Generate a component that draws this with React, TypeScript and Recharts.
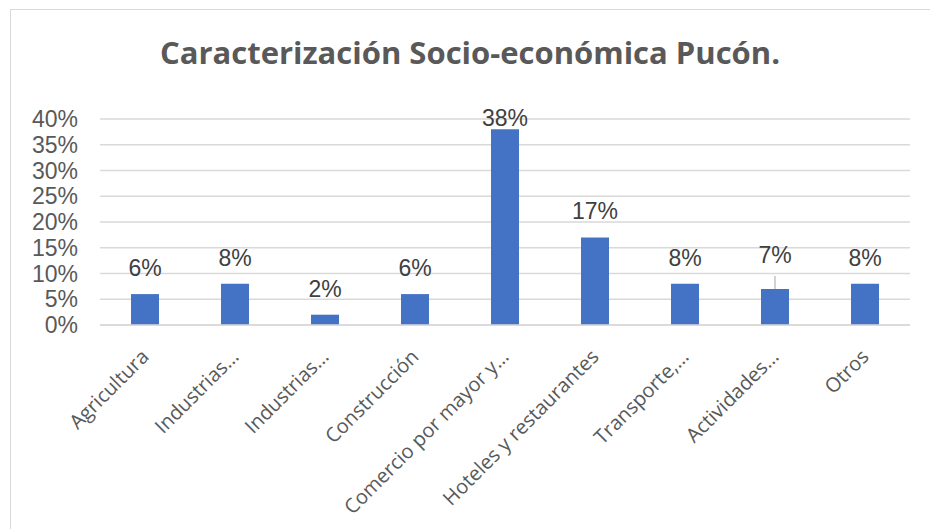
import { BarChart, Bar, XAxis, YAxis, CartesianGrid, LabelList } from 'recharts';

const categories = [
  'Agricultura',
  'Industrias…',
  'Industrias…',
  'Construcción',
  'Comercio por mayor y…',
  'Hoteles y restaurantes',
  'Transporte,…',
  'Actividades…',
  'Otros',
];
const shares = [6, 8, 2, 6, 38, 17, 8, 7, 8];
const yTicks = [0, 5, 10, 15, 20, 25, 30, 35, 40];

const data = categories.map((name, i) => ({ name, value: shares[i] }));

// label that Excel user dragged up, drawn with a leader line
const draggedLabel = 7;

const CategoryTick = (props: any) => {
  const { x, y, payload } = props;
  return (
    <text
      x={x + 5}
      y={y + 25}
      transform={`rotate(-45, ${x + 5}, ${y + 25})`}
      textAnchor="end"
      fontFamily="'Open Sans', sans-serif"
      fontSize={20}
      fill="#595959"
    >
      {payload.value}
    </text>
  );
};

const ValueLabel = (props: any) => {
  const { x, y, width, value, index } = props;
  const cx = x + width / 2;
  const lifted = index === draggedLabel;
  const cy = Math.max(118, y - (lifted ? 34 : 26));
  return (
    <g>
      {lifted && <line x1={cx} x2={cx} y1={y} y2={y - 13} stroke="#a6a6a6" strokeWidth={1} />}
      <text
        x={cx}
        y={cy}
        textAnchor="middle"
        dominantBaseline="central"
        fontFamily="'Liberation Sans', Arial, sans-serif"
        fontSize={23}
        fill="#404040"
      >
        {value}%
      </text>
    </g>
  );
};

export default function App() {
  return (
    <div style={{ position: 'absolute', left: 0, top: 0, width: 930, height: 529, background: '#fff', overflow: 'hidden' }}>
      <div
        style={{
          position: 'absolute',
          left: 10,
          top: 9,
          width: 940,
          height: 540,
          border: '1px solid #d9d9d9',
        }}
      />
      <div
        style={{
          position: 'absolute',
          left: 10,
          top: 31,
          width: 920,
          textAlign: 'center',
          fontFamily: "'Open Sans', sans-serif",
          fontWeight: 700,
          fontSize: 31,
          color: '#595959',
        }}
      >
        Caracterización Socio-económica Pucón.
      </div>
      <div style={{ position: 'absolute', left: 0, top: 0 }}>
        <BarChart
          width={930}
          height={529}
          data={data}
          margin={{ top: 119, right: 20, left: 0, bottom: 4 }}
          barCategoryGap={0}
        >
          <CartesianGrid vertical={false} stroke="#d9d9d9" strokeWidth={1.5} />
          <XAxis
            dataKey="name"
            interval={0}
            height={200}
            axisLine={{ stroke: '#d9d9d9', strokeWidth: 1.5 }}
            tickLine={false}
            tick={<CategoryTick />}
          />
          <YAxis
            width={100}
            domain={[0, 40]}
            ticks={yTicks}
            interval={0}
            axisLine={false}
            tickLine={false}
            tickSize={0}
            tickMargin={22}
            tickFormatter={(v: number) => `${v}%`}
            tick={{ fontFamily: "'Liberation Sans', Arial, sans-serif", fontSize: 23, fill: '#595959' }}
          />
          <Bar dataKey="value" fill="#4472c4" barSize={28} isAnimationActive={false}>
            <LabelList dataKey="value" content={<ValueLabel />} />
          </Bar>
        </BarChart>
      </div>
    </div>
  );
}
